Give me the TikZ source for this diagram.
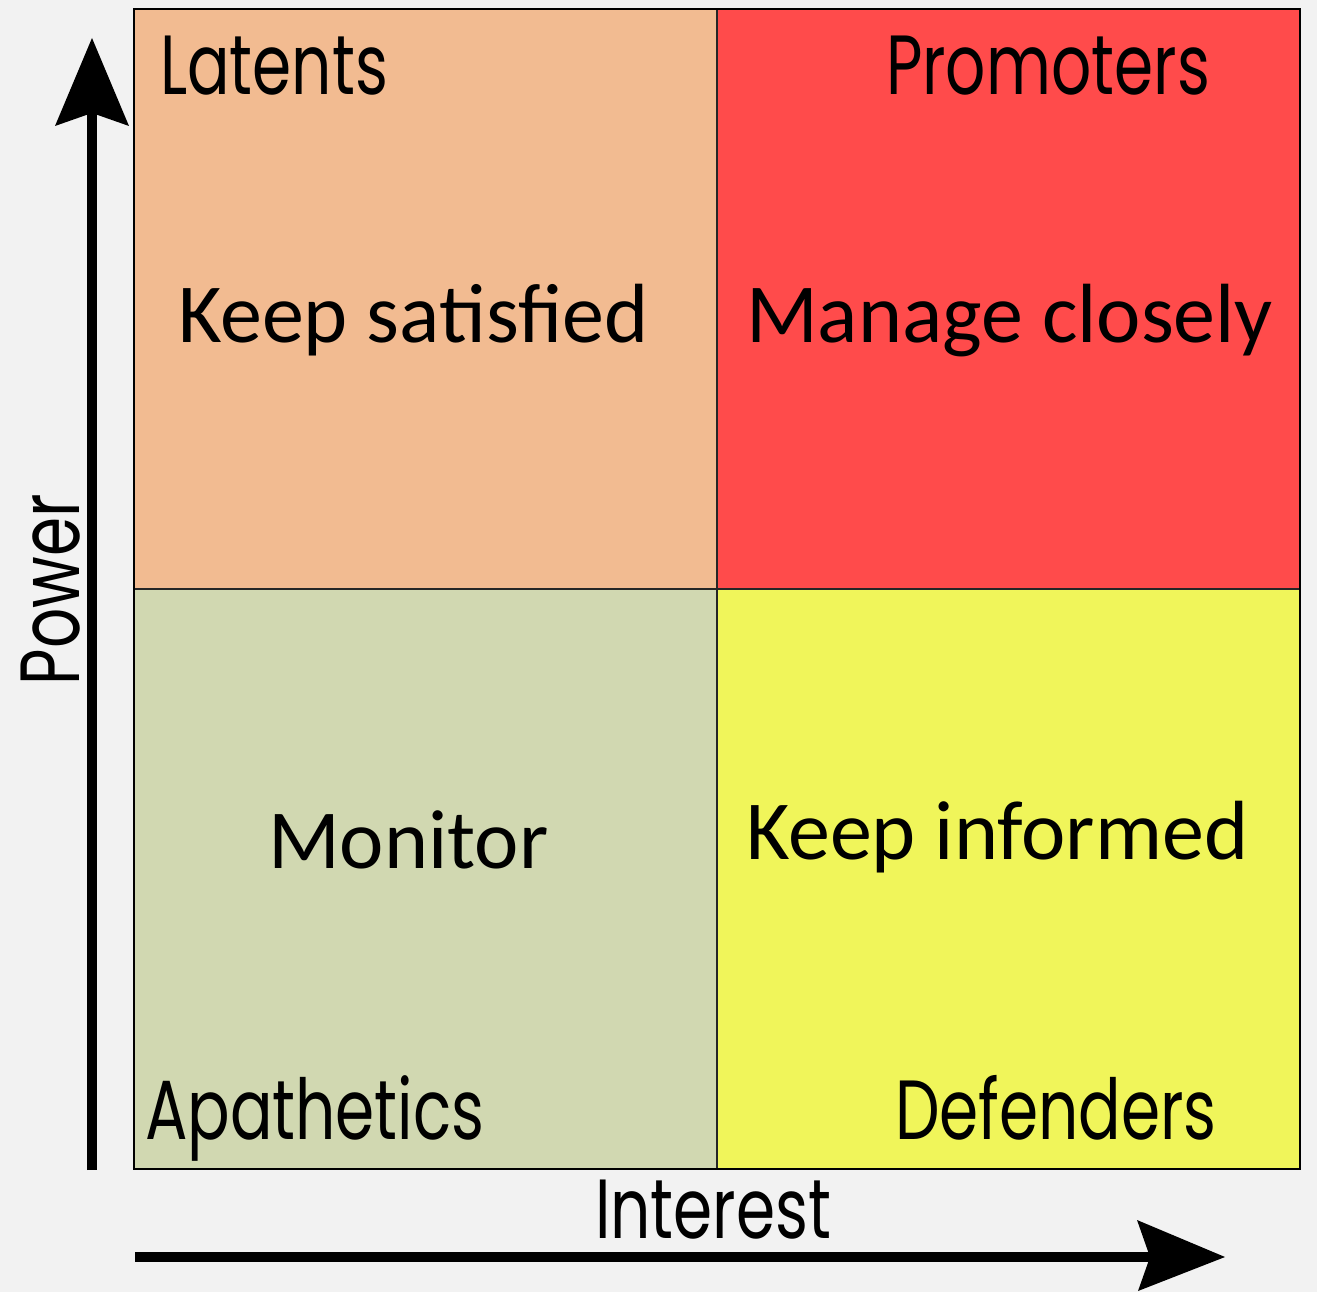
\documentclass[tikz,border=0pt]{standalone}
\usepackage{fontspec}
\newfontfamily\labfont[FakeStretch=0.75]{Poppins}
\newfontfamily\actfont{Carlito}
\definecolor{bgc}{HTML}{F2F2F2}
\definecolor{peach}{HTML}{F2BB91}
\definecolor{redq}{HTML}{FF4B4B}
\definecolor{greenq}{HTML}{D1D8B1}
\definecolor{yellowq}{HTML}{F0F55A}
\tikzset{
  quad/.style={draw=black!85, line width=2pt, inner sep=0pt, outer sep=0pt,
    minimum width=583pt, minimum height=580pt, anchor=north west},
  lab/.style={anchor=base west, inner sep=0pt, outer sep=0pt,
    font=\labfont\fontsize{84}{90}\selectfont},
  act/.style={anchor=base west, inner sep=0pt, outer sep=0pt,
    font=\actfont\fontsize{84}{90}\selectfont},
  shaft/.style={line width=10pt},
}
\begin{document}
\begin{tikzpicture}[x=1pt,y=-1pt]
\useasboundingbox[fill=bgc] (0,0) rectangle (1317,1292);
% quadrants
\node[quad, fill=peach]   (tl) at (134,9) {};
\node[quad, fill=redq]    (tr) at (717,9) {};
\node[quad, fill=greenq]  (bl) at (134,589) {};
\node[quad, fill=yellowq] (br) at (717,589) {};
\draw[line width=2.5pt] (tl.north west) rectangle (br.south east);
% corner labels
\node[lab] (latents)  at (160,95)  {Latents};
\node[lab] (promo)    at (886,95)  {Promoters};
\node[lab] (apath)    at (145,1139) {Apathetics};
\node[lab] (defend)   at (895,1139) {Defenders};
\node[lab] (interest) at (595,1238) {Interest};
\node[lab, rotate=90] (power) at (79,685) {Power};
% action labels
\node[act] (keepsat)  at (178,342) {Keep satisfied};
\node[act] (manage)   at (746,342) {Manage closely};
\node[act] (monitor)  at (268,868) {Monitor};
\node[act] (keepinf)  at (746,859) {Keep informed};
% power axis
\coordinate (vs) at (92,1170);
\coordinate (vn) at (92,113);
\coordinate (vt) at (92,38);
\coordinate (vl) at (55,126);
\coordinate (vr) at (129,126);
\draw[shaft] (vs) -- (vn);
\fill (vt) -- (vl) -- (vn) -- (vr) -- cycle;
% interest axis
\coordinate (hs) at (135,1257);
\coordinate (hn) at (1150,1257);
\coordinate (ht) at (1225,1257);
\coordinate (hu) at (1137,1220);
\coordinate (hd) at (1138,1291);
\draw[shaft] (hs) -- (hn);
\fill (ht) -- (hu) -- (hn) -- (hd) -- cycle;
\end{tikzpicture}
\end{document}
